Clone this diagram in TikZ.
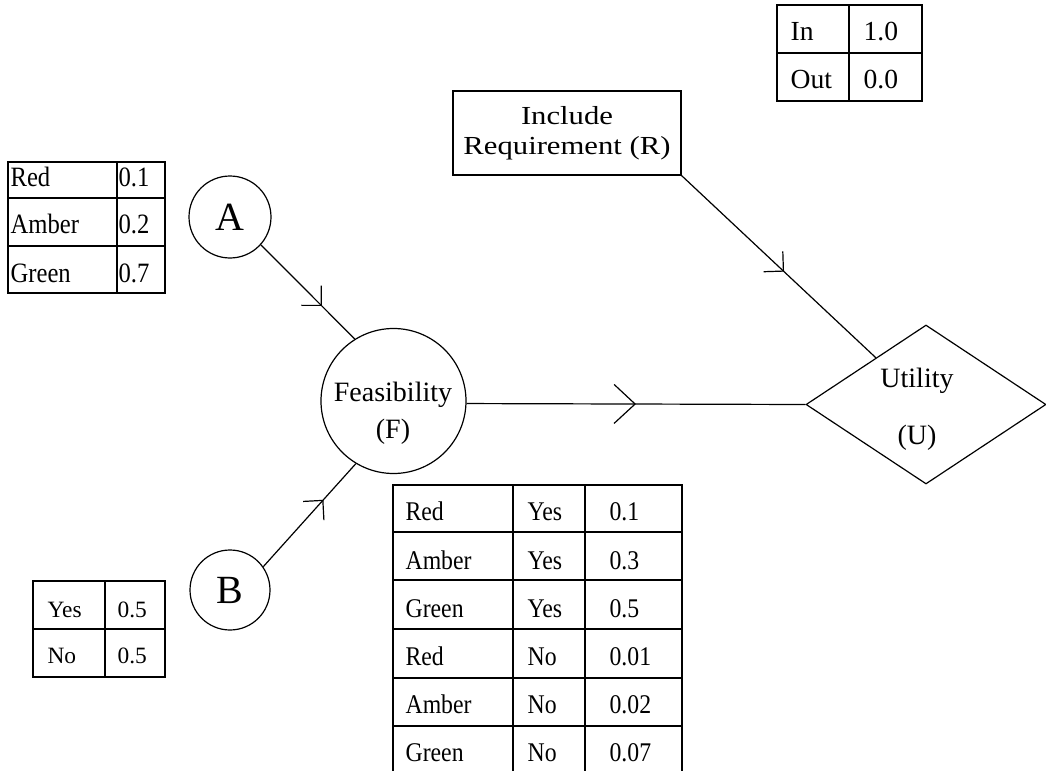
\documentclass[tikz,border=0pt]{standalone}
\usepackage{fontspec}
\setmainfont{Liberation Serif}
\newfontfamily\narrowfont[FakeStretch=0.88]{Liberation Serif}
\newfontfamily\widefont[FakeStretch=1.18]{Liberation Serif}
\usetikzlibrary{arrows.meta, shapes.geometric, decorations.markings}
\tikzset{
  chance/.style={circle, draw, inner sep=0pt},
  reqbox/.style={rectangle, draw, minimum width=114pt, minimum height=42pt,
    align=center, font=\widefont\fontsize{13}{15}\selectfont},
  utilbox/.style={diamond, draw, minimum width=120pt, minimum height=79.5pt, inner sep=0pt},
  nodetext/.style={align=center, inner sep=0pt, font=\fontsize{14}{#1}\selectfont},
  cell/.style={anchor=base west, inner sep=0pt, font=\fontsize{#1}{#1}\selectfont},
  cell/.default=12,
  ncell/.style={anchor=base west, inner sep=0pt, font=\narrowfont\fontsize{#1}{#1}\selectfont},
  tableline/.style={line cap=rect},
  barb/.style={postaction={decorate}, decoration={markings,
    mark=at position #1 with {\arrow{Straight Barb[length=7pt, width=14pt]}}}},
  bigbarb/.style={postaction={decorate}, decoration={markings,
    mark=at position #1 with {\arrow{Straight Barb[length=10.5pt, width=19.5pt]}}}}
}

\begin{document}
\begin{tikzpicture}[x=0.5pt, y=-0.5pt, line width=0.6pt]
  \useasboundingbox (0,0) rectangle (1046,771);

  % nodes of the network
  \node[chance, minimum size=41pt, font=\fontsize{20}{24}\selectfont] (A) at (230,217) {A};
  \node[chance, minimum size=40pt, font=\fontsize{20}{24}\selectfont] (B) at (230,590) {B};
  \node[chance, minimum size=72.5pt] (F) at (393.5,401) {};
  \node[nodetext=18.5pt] (Flabel) at (393,413) {Feasibility\\(F)};
  \node[reqbox] (R) at (567,133) {Include\\Requirement (R)};
  \node[utilbox] (U) at (926,404.5) {};
  \node[nodetext=28.5pt] (Ulabel) at (917,409) {Utility\\(U)};

  % links
  \draw[barb=0.65] (A.-42) -- (F.122);
  \draw[barb=0.65] (B.35) -- (F.-121);
  \draw[bigbarb=0.5] (F.-2.4) -- (U.west);
  \draw[barb=0.53] (R.south east) -- (U.137);

  % table for A
  \draw[tableline] (8,162) rectangle (165,293);
  \draw[tableline] (117,162) -- (117,293) (8,198) -- (165,198) (8,246) -- (165,246);
  \foreach \t/\v/\y [count=\i] in {Red/0.1/186, Amber/0.2/233, Green/0.7/282} {
    \node[ncell=14] (pa\i) at (10,\y) {\t};
    \node[ncell=14] (pav\i) at (118,\y) {\v};
  }

  % table for B
  \draw[tableline] (33,581) rectangle (165,677);
  \draw[tableline] (105,581) -- (105,677) (33,629) -- (165,629);
  \foreach \t/\v/\y [count=\i] in {Yes/0.5/617, No/0.5/663} {
    \node[cell=11.7] (pb\i) at (47,\y) {\t};
    \node[cell=11.7] (pbv\i) at (117,\y) {\v};
  }

  % table for R
  \draw[tableline] (777,5) rectangle (922,101);
  \draw[tableline] (849,5) -- (849,101) (777,53) -- (922,53);
  \foreach \t/\v/\y [count=\i] in {In/1.0/40, Out/0.0/88} {
    \node[cell=13.8] (pr\i) at (790,\y) {\t};
    \node[cell=13.8] (prv\i) at (863,\y) {\v};
  }

  % table for F
  \draw[tableline] (393,771) -- (393,485) -- (682,485) -- (682,771);
  \draw[tableline] (513,485) -- (513,771) (585,485) -- (585,771);
  \foreach \y in {532,580,629,678,726}
    \draw[tableline] (393,\y) -- (682,\y);
  \foreach \a/\b/\v/\y [count=\i] in {Red/Yes/0.1/520, Amber/Yes/0.3/569,
      Green/Yes/0.5/617, Red/No/0.01/665, Amber/No/0.02/713, Green/No/0.07/761} {
    \node[ncell=13.5] (pfa\i) at (405,\y) {\a};
    \node[ncell=13.5] (pfb\i) at (527,\y) {\b};
    \node[ncell=13.5] (pfv\i) at (609,\y) {\v};
  }
\end{tikzpicture}
\end{document}
